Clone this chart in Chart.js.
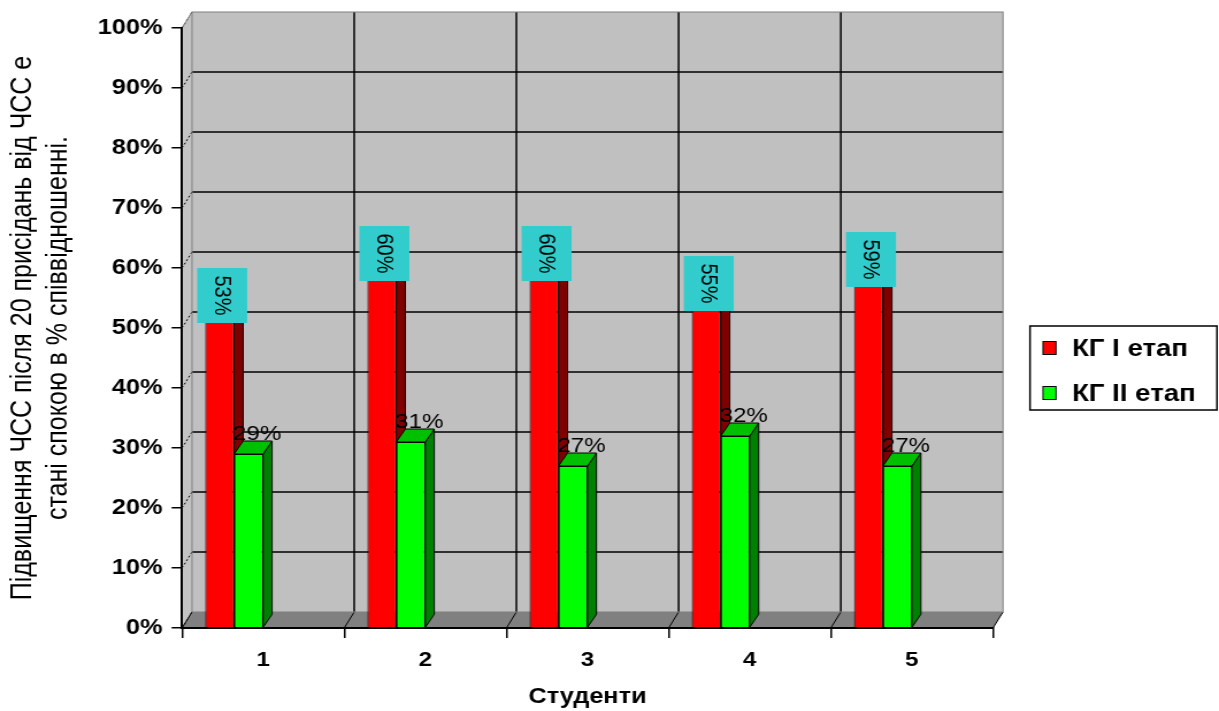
<!DOCTYPE html>
<html>
<head>
<meta charset="utf-8">
<script src="https://cdn.jsdelivr.net/npm/chart.js@4.4.1/dist/chart.umd.min.js"></script>
<style>
  html, body { margin: 0; padding: 0; background: #ffffff; }
</style>
</head>
<body>
<!-- the drawing is made on a narrower canvas and widened horizontally -->
<canvas id="chart" width="1060" height="711" style="display:block;width:1219px;height:711px;"></canvas>
<script>
// ---- data ----
const categories = ['1', '2', '3', '4', '5'];
const seriesNames = ['КГ I етап', 'КГ II етап'];
const stage1 = [53, 60, 60, 55, 59];
const stage2 = [29, 31, 27, 32, 27];
const yTicks = [0, 10, 20, 30, 40, 50, 60, 70, 80, 90, 100];
const yTitle = ['Підвищення ЧСС після 20 присідань від ЧСС е', 'стані спокою в % співвідношенні.'];
const xTitle = 'Студенти';

// ---- look ----
const FONT = "'Liberation Sans', Arial, sans-serif";
const SX = 1219 / 1060;          // horizontal widening of the canvas
const WALL_DX = 10 / SX, WALL_DY = 16;   // depth of the walls
const BAR_DX = 9 / SX, BAR_DY = 13;      // depth of the columns
const faces = [
  { front: '#ff0000', side: '#800000', top: '#c00000' },
  { front: '#00ff00', side: '#008000', top: '#00c000' }
];

function poly(ctx, pts, fill, stroke, lw) {
  ctx.beginPath();
  ctx.moveTo(pts[0][0], pts[0][1]);
  for (let i = 1; i < pts.length; i++) ctx.lineTo(pts[i][0], pts[i][1]);
  ctx.closePath();
  if (fill) { ctx.fillStyle = fill; ctx.fill(); }
  if (stroke) { ctx.strokeStyle = stroke; ctx.lineWidth = lw || 1; ctx.stroke(); }
}
function line(ctx, x1, y1, x2, y2, color, lw) {
  ctx.beginPath();
  ctx.moveTo(x1, y1); ctx.lineTo(x2, y2);
  ctx.strokeStyle = color; ctx.lineWidth = lw; ctx.stroke();
}

// walls, floor and back-wall grid
const wallsPlugin = {
  id: 'walls',
  beforeDraw(chart) {
    const ctx = chart.ctx;
    const { left, right, top, bottom } = chart.chartArea;
    const ys = chart.scales.y, xs = chart.scales.x;
    ctx.save();
    // back wall
    poly(ctx, [[left + WALL_DX, top - WALL_DY], [right + WALL_DX, top - WALL_DY],
               [right + WALL_DX, bottom - WALL_DY], [left + WALL_DX, bottom - WALL_DY]], '#c0c0c0');
    // side wall
    poly(ctx, [[left, top], [left + WALL_DX, top - WALL_DY], [left + WALL_DX, bottom - WALL_DY], [left, bottom]], '#c4c4c4');
    // floor
    poly(ctx, [[left, bottom], [left + WALL_DX, bottom - WALL_DY], [right + WALL_DX, bottom - WALL_DY], [right, bottom]], '#808080');

    // horizontal grid on the back wall + dashed links to the axis
    yTicks.forEach(v => {
      const y = ys.getPixelForValue(v);
      if (v > 0 && v < 100) line(ctx, left + WALL_DX, y - WALL_DY, right + WALL_DX, y - WALL_DY, '#000', 1.5);
      ctx.save();
      ctx.setLineDash([2, 2]);
      line(ctx, left, y, left + WALL_DX, y - WALL_DY, '#000', 1);
      ctx.restore();
    });
    // vertical grid at category boundaries
    const step = xs.getPixelForValue(1) - xs.getPixelForValue(0);
    for (let k = 0; k <= categories.length; k++) {
      const bx = xs.getPixelForValue(0) - step / 2 + k * step;
      if (k > 0 && k < categories.length) {
        line(ctx, bx + WALL_DX, top - WALL_DY, bx + WALL_DX, bottom - WALL_DY, '#000', 1.5);
      }
      line(ctx, bx, bottom, bx + WALL_DX, bottom - WALL_DY, '#000', 1);
    }
    // wall outlines
    ctx.strokeStyle = '#808080'; ctx.lineWidth = 1;
    ctx.strokeRect(left + WALL_DX, top - WALL_DY, right - left, bottom - top);
    line(ctx, left, top, left + WALL_DX, top - WALL_DY, '#808080', 1);
    ctx.restore();
  }
};

// columns with side and top faces, and their value labels
const columnsPlugin = {
  id: 'columns3d',
  beforeDatasetsDraw(chart) {
    const ctx = chart.ctx;
    const first = chart.getDatasetMeta(0).data[0];
    const shift = first.getProps(['width'], true).width;
    ctx.save();
    ctx.translate(-shift, 0);
    const labels = [];
    chart.data.datasets.forEach((ds, i) => {
      const meta = chart.getDatasetMeta(i);
      const f = faces[i];
      meta.data.forEach((bar, j) => {
        const { x, y, base, width } = bar.getProps(['x', 'y', 'base', 'width'], true);
        const l = x - width / 2, r = x + width / 2;
        poly(ctx, [[r, y], [r + BAR_DX, y - BAR_DY], [r + BAR_DX, base - BAR_DY], [r, base]], f.side, '#000', 1);
        poly(ctx, [[l, y], [l + BAR_DX, y - BAR_DY], [r + BAR_DX, y - BAR_DY], [r, y]], f.top, '#000', 1);
        bar.draw(ctx);
        labels.push({ i, x, y, value: ds.data[j] });
      });
    });
    labels.forEach(lb => {
      const text = lb.value + '%';
      ctx.fillStyle = '#000';
      if (lb.i === 0) {
        const cx = lb.x + 2.5 / SX, w = 50 / SX;
        const bTop = lb.y - 42, bBot = lb.y + 13;
        ctx.fillStyle = '#33cccc';
        ctx.fillRect(cx - w / 2, bTop, w, bBot - bTop);
        ctx.save();
        ctx.translate(cx, (bTop + bBot) / 2);
        ctx.rotate(Math.PI / 2);
        ctx.font = '20px ' + FONT;
        ctx.fillStyle = '#000';
        ctx.textAlign = 'center';
        ctx.textBaseline = 'middle';
        ctx.fillText(text, 0, 1);
        ctx.restore();
      } else {
        ctx.font = '21px ' + FONT;
        ctx.textAlign = 'center';
        ctx.textBaseline = 'middle';
        ctx.fillText(text, lb.x + 8.5 / SX, lb.y - 19.5);
      }
    });
    ctx.restore();
    return false;
  }
};

// legend with a frame, to the right of the plot
const legendPlugin = {
  id: 'framedLegend',
  afterDraw(chart) {
    const ctx = chart.ctx;
    const x0 = 1030 / SX, x1 = 1217 / SX, y0 = 326, y1 = 410;
    ctx.save();
    ctx.strokeStyle = '#000'; ctx.lineWidth = 1.5;
    ctx.strokeRect(x0, y0, x1 - x0, y1 - y0);
    const rows = [348, 393];
    chart.data.datasets.forEach((ds, i) => {
      const cy = rows[i];
      ctx.fillStyle = ds.backgroundColor;
      ctx.fillRect(1043 / SX, cy - 6.5, 13 / SX, 13);
      ctx.strokeStyle = '#000'; ctx.lineWidth = 1;
      ctx.strokeRect(1043 / SX, cy - 6.5, 13 / SX, 13);
      ctx.fillStyle = '#000';
      ctx.font = 'bold 24px ' + FONT;
      ctx.textAlign = 'left';
      ctx.textBaseline = 'middle';
      ctx.fillText(ds.label, 1072 / SX, cy + 1);
    });
    ctx.restore();
  }
};

new Chart(document.getElementById('chart'), {
  type: 'bar',
  data: {
    labels: categories,
    datasets: [
      { label: seriesNames[0], data: stage1, backgroundColor: faces[0].front, borderColor: '#000', borderWidth: 1,
        barPercentage: 1, categoryPercentage: 0.357 },
      { label: seriesNames[1], data: stage2, backgroundColor: faces[1].front, borderColor: '#000', borderWidth: 1,
        barPercentage: 1, categoryPercentage: 0.357 }
    ]
  },
  options: {
    responsive: false,
    animation: false,
    devicePixelRatio: 1,
    layout: { padding: { top: 28, right: 1060 - 993 / SX, bottom: 0, left: 0 } },
    plugins: { legend: { display: false }, tooltip: { enabled: false } },
    scales: {
      x: {
        grid: { display: true, drawOnChartArea: false, drawTicks: true, tickLength: 10, color: '#000', lineWidth: 1.5, offset: true },
        border: { display: true, color: '#000', width: 2, z: 1 },
        ticks: { color: '#000', font: { family: FONT, size: 21, weight: 'bold' }, padding: 10, maxRotation: 0 },
        title: { display: true, text: xTitle, color: '#000', font: { family: FONT, size: 22, weight: 'bold', lineHeight: 1.2 },
                 padding: { top: 0, bottom: 1 } },
        afterFit(scale) { scale.height = 83; }
      },
      y: {
        min: 0, max: 100,
        afterBuildTicks(scale) { scale.ticks = yTicks.map(v => ({ value: v })); },
        grid: { display: true, drawOnChartArea: false, drawTicks: true, tickLength: 9, color: '#000', lineWidth: 1.5 },
        border: { display: true, color: '#000', width: 2, z: 1 },
        ticks: { color: '#000', font: { family: FONT, size: 22, weight: 'bold' }, padding: 8,
                 callback: v => v + '%' },
        title: { display: true, text: yTitle, color: '#000', font: { family: FONT, size: 25, lineHeight: 1.22 },
                 padding: { top: 5, bottom: 0 } },
        afterFit(scale) { scale.width = 182 / SX; }
      }
    }
  },
  plugins: [wallsPlugin, columnsPlugin, legendPlugin]
});
</script>
</body>
</html>
